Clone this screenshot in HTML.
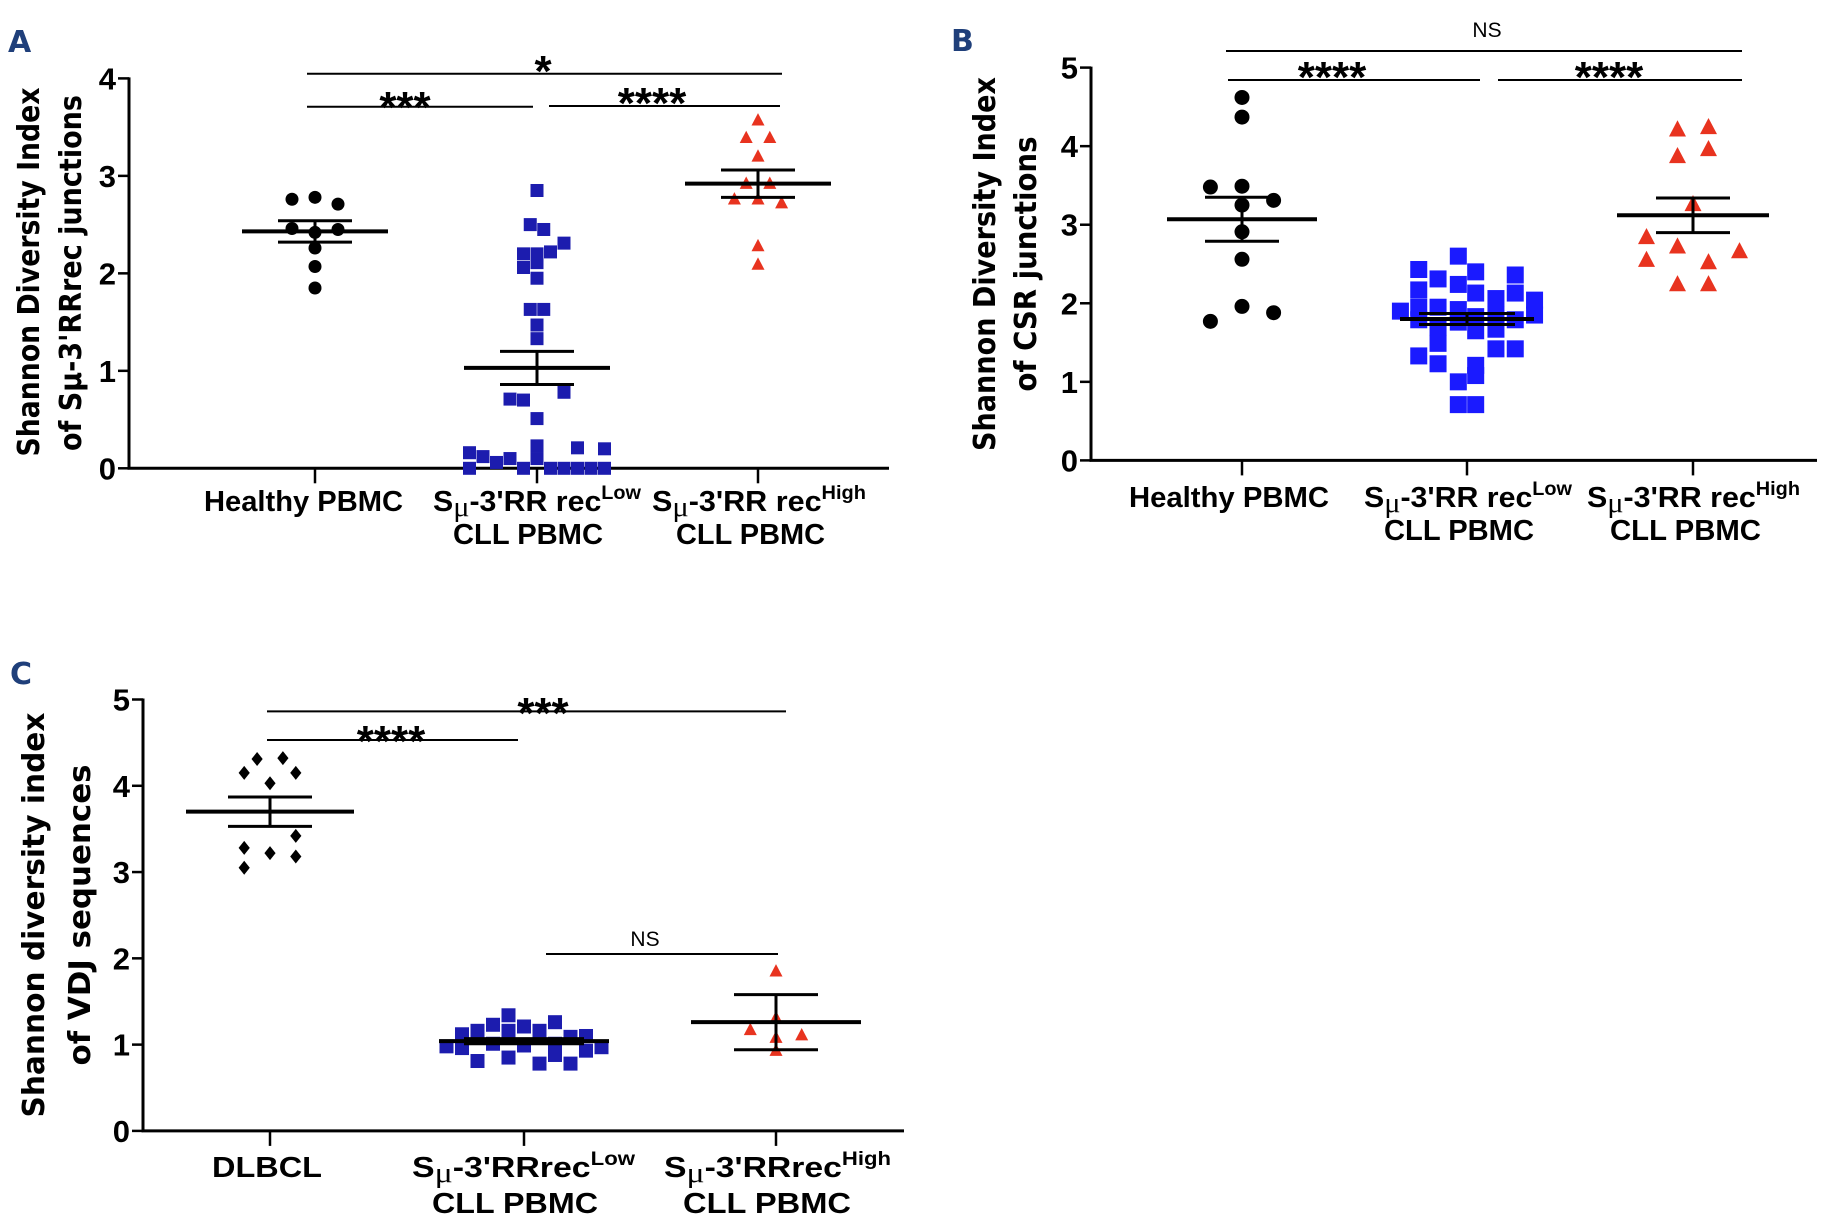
<!DOCTYPE html>
<html><head><meta charset="utf-8"><style>
html,body{margin:0;padding:0;background:#fff;}
svg{display:block;}
text{font-family:"Liberation Sans Narrow","Liberation Sans",sans-serif;font-weight:bold;fill:#000;}
.tt{font-family:"DejaVu Sans","Liberation Sans",sans-serif;font-weight:bold;}
.pl{font-family:"DejaVu Sans","Liberation Sans",sans-serif;font-weight:bold;fill:#1f3f7a;}
</style></head><body>
<svg id="fig" width="1823" height="1219" viewBox="0 0 1823 1219" xmlns="http://www.w3.org/2000/svg"></svg>
<script>
// ---- Panel A data ----
const aTicks = [0,1,2,3,4];
const aHealthyVals = [2.76,2.78,2.71,2.46,2.42,2.45,2.26,2.07,1.85];
const aHealthyJit = [-1,0,1,-1,0,1,0,0,0];
const aLowVals = [2.85,2.50,2.45,2.31,2.22,2.20,2.20,2.06,2.11,1.95,1.63,1.63,1.47,1.33,0.78,0.71,0.70,0.51,0.23,0.10,0.16,0.12,0.06,0.10,0.21,0.20,0,0,0,0,0,0,0];
const aLowJit = [0,-0.5,0.5,2,1,-1,0,-1,0,0,-0.5,0.5,0,0,2,-2,-1,0,0,0,-5,-4,-3,-2,3,5,-5,-1,1,2,3,4,5];
const aHighVals = [3.57,3.39,3.39,3.20,2.92,2.92,2.76,2.76,2.72,2.28,2.09];
const aHighJit = [0,-1,1,0,-1,1,-2,0,2,0,0];
const aMeans = [2.43,1.03,2.92];
const aSems = [0.11,0.17,0.14];
// ---- Panel B data ----
const bTicks = [0,1,2,3,4,5];
const bHealthyVals = [4.62,4.37,3.48,3.49,3.31,3.25,2.91,2.56,1.96,1.77,1.88];
const bHealthyJit = [0,0,-1,0,1,0,0,0,0,-1,1];
const bLowVals = [1.90,2.43,2.17,1.95,1.79,1.33,2.31,1.95,1.69,1.49,1.23,2.60,2.24,1.92,1.76,1.00,0.71,2.40,2.13,1.83,1.65,1.21,1.08,0.71,2.06,1.85,1.67,1.42,2.36,2.13,1.79,1.42,2.04,1.85];
const bLowJit = [-3.45,-2.5,-2.5,-2.5,-2.5,-2.5,-1.5,-1.5,-1.5,-1.5,-1.5,-0.45,-0.45,-0.45,-0.45,-0.45,-0.45,0.45,0.45,0.45,0.45,0.45,0.45,0.45,1.5,1.5,1.5,1.5,2.5,2.5,2.5,2.5,3.5,3.5];
const bHighVals = [4.21,4.24,3.87,3.96,3.26,2.84,2.72,2.66,2.55,2.52,2.24,2.24];
const bHighJit = [-0.5,0.5,-0.5,0.5,0,-1.5,-0.5,1.5,-1.5,0.5,-0.5,0.5];
const bMeans = [3.07,1.80,3.12];
const bSems = [0.28,0.07,0.22];
// ---- Panel C data ----
const cTicks = [0,1,2,3,4,5];
const cDlbclVals = [4.31,4.32,4.15,4.15,4.03,3.42,3.28,3.22,3.18,3.05];
const cDlbclJit = [-1,1,-2,2,0,2,-2,0,2,-2];
const cLowVals = [0.98,1.12,0.96,1.16,0.81,1.23,1.01,1.34,1.16,0.85,1.21,0.99,1.16,0.78,1.26,1.01,0.88,1.09,0.78,1.10,0.93,0.97];
const cLowJit = [-5,-4,-4,-3,-3,-2,-2,-1,-1,-1,0,0,1,1,2,2,2,3,3,4,4,5];
const cHighVals = [1.85,1.31,1.17,1.11,1.08,0.93];
const cHighJit = [0,0,-1,1,0,0];
const cMeans = [3.70,1.04,1.26];
const cSems = [0.17,0.03,0.32];

const NS='http://www.w3.org/2000/svg';
const svg=document.getElementById('fig');
function mk(tag,attrs,parent){const e=document.createElementNS(NS,tag);for(const k in attrs)e.setAttribute(k,attrs[k]);(parent||svg).appendChild(e);return e;}

function marker(g,shape,cx,cy,s,color){
  let e;
  if(shape==='circle'){e=mk('circle',{cx:cx,cy:cy,r:s/2,fill:color},g);}
  else if(shape==='square'){e=mk('rect',{x:cx-s/2,y:cy-s/2,width:s,height:s,fill:color},g);}
  else if(shape==='triangle'){e=mk('polygon',{points:(cx)+','+(cy-s*0.55)+' '+(cx-s/2)+','+(cy+s*0.4)+' '+(cx+s/2)+','+(cy+s*0.4),fill:color},g);}
  else {e=mk('polygon',{points:cx+','+(cy-s/2)+' '+(cx+s*0.4)+','+cy+' '+cx+','+(cy+s/2)+' '+(cx-s*0.4)+','+cy,fill:color},g);}
  
  
}

function panel(p){
  const g=mk('g',{});
  
  
  const ymax=p.ticks[p.ticks.length-1];
  const Y=v=>p.y0+(p.yTop-p.y0)*v/ymax;
  const ya=mk('line',{x1:p.ax,y1:p.yTop-1,x2:p.ax,y2:p.y0,stroke:'#000','stroke-width':3},g);
  
  const xa=mk('line',{x1:p.ax-1.5,y1:p.y0,x2:p.xEnd,y2:p.y0,stroke:'#000','stroke-width':3},g);
  
  p.ticks.forEach(t=>{
    const y=Y(t);
    const l=mk('line',{x1:p.ax-11,y1:y,x2:p.ax,y2:y,stroke:'#000','stroke-width':2.5},g);
    
    const tx=mk('text',{x:p.ax-13,y:y+11,'text-anchor':'end','font-size':31},g);
    tx.textContent=t;
    
  });
  p.cats.forEach(cx=>{
    const l=mk('line',{x1:cx,y1:p.y0,x2:cx,y2:p.y0+15,stroke:'#000','stroke-width':2.5},g);
    
  });
  p.labels.forEach(L=>{
    const t=mk('text',{x:L[1],y:L[2],textLength:L[3],lengthAdjust:'spacingAndGlyphs','font-size':29},g);
    t.innerHTML=L[0];
    
  });
  p.title.forEach(T=>{
    const t=mk('text',{x:0,y:0,'text-anchor':'middle','class':'tt','font-size':30,textLength:T[3],lengthAdjust:'spacingAndGlyphs',transform:'translate('+(T[1]+11)+','+T[2]+') rotate(-90)'},g);
    t.textContent=T[0];
    
  });
  const pl=mk('text',{x:p.pl[1],y:p.pl[2]+11,'class':'pl','font-size':30},g);
  pl.textContent=p.pl[0];
  
  p.series.forEach((s,i)=>{
    const sg=mk('g',{},g);
    
    s.vals.forEach((v,j)=>marker(sg,s.shape,p.cats[i]+s.jit[j]*s.sp,Y(v),s.size,s.color));
    const m=p.means[i],e=p.sems[i],cx=p.cats[i];
    const ml=mk('line',{x1:cx-s.mw,y1:Y(m),x2:cx+s.mw,y2:Y(m),stroke:'#000','stroke-width':4},sg);
    
    const el=mk('line',{x1:cx,y1:Y(m+e),x2:cx,y2:Y(m-e),stroke:'#000','stroke-width':3},sg);
    
    [m+e,m-e].forEach(v=>{
      const c=mk('line',{x1:cx-s.cw,y1:Y(v),x2:cx+s.cw,y2:Y(v),stroke:'#000','stroke-width':3},sg);
      
    });
  });
  p.sig.forEach(S=>{
    const l=mk('line',{x1:S[1],y1:S[3],x2:S[2],y2:S[3],stroke:'#000','stroke-width':2},g);
    
    const isNS=S[0]==='NS';
    const t=mk('text',{x:S[4],y:S[5],'text-anchor':'middle','font-size':isNS?21:44,style:isNS?'font-weight:normal':''},g);
    t.textContent=S[0];
    
  });
}
const mu='S<tspan font-family="Liberation Serif,serif" font-weight="normal" dy="5">μ</tspan><tspan dy="-5">';
panel({name:'panel-a',ticks:aTicks,ax:129,yTop:78.4,y0:468.3,xEnd:889,cats:[315,537,758],
  means:aMeans,sems:aSems,pl:['A',8,41],
  labels:[['Healthy PBMC',204,511,199],[mu+"-3'RR rec</tspan><tspan font-size='19' dy='-12'>Low</tspan>",433,511,208],['CLL PBMC',453,544,150],
    [mu+"-3'RR rec</tspan><tspan font-size='19' dy='-12'>High</tspan>",652,511,214],['CLL PBMC',676,544,149]],
  title:[['Shannon Diversity Index',28,272,369],["of Sμ-3'RRrec junctions",70,273,356]],
  series:[{key:'healthy',vals:aHealthyVals,jit:aHealthyJit,sp:23,shape:'circle',size:13,color:'#000',mw:73,cw:37},
          {key:'cll-low',vals:aLowVals,jit:aLowJit,sp:13.5,shape:'square',size:13,color:'#1c1cae',mw:73,cw:37},
          {key:'cll-high',vals:aHighVals,jit:aHighJit,sp:11.8,shape:'triangle',size:13,color:'#e8331f',mw:73,cw:37}],
  sig:[['*',307,782,73.7,543,86],['***',307,533,106.8,405,122],['****',549,780,106,652,118]]});
panel({name:'panel-b',ticks:bTicks,ax:1091,yTop:67.6,y0:460.4,xEnd:1817,cats:[1242,1467,1693],
  means:bMeans,sems:bSems,pl:['B',951,40],
  labels:[['Healthy PBMC',1129,507,200],[mu+"-3'RR rec</tspan><tspan font-size='19' dy='-12'>Low</tspan>",1364,507,208],['CLL PBMC',1384,540,150],
    [mu+"-3'RR rec</tspan><tspan font-size='19' dy='-12'>High</tspan>",1587,507,213],['CLL PBMC',1610,540,151]],
  title:[['Shannon Diversity Index',984,264,374],['of CSR junctions',1025,264,255]],
  series:[{key:'healthy',vals:bHealthyVals,jit:bHealthyJit,sp:31.6,shape:'circle',size:15,color:'#000',mw:75,cw:37},
          {key:'cll-low',vals:bLowVals,jit:bLowJit,sp:19.3,shape:'square',size:17,color:'#1a1aff',mw:67,cw:48},
          {key:'cll-high',vals:bHighVals,jit:bHighJit,sp:31,shape:'triangle',size:17,color:'#e8331f',mw:76,cw:37}],
  sig:[['NS',1226,1742,51,1487,37],['****',1228,1480,80,1332,92],['****',1498,1742,80,1609,92]]});
panel({name:'panel-c',ticks:cTicks,ax:143,yTop:699.5,y0:1130.9,xEnd:904,cats:[270,524,776],
  means:cMeans,sems:cSems,pl:['C',10,673],
  labels:[['DLBCL',212,1177,110],[mu+"-3'RRrec</tspan><tspan font-size='19' dy='-12'>Low</tspan>",412,1177,223],['CLL PBMC',432,1213,166],
    [mu+"-3'RRrec</tspan><tspan font-size='19' dy='-12'>High</tspan>",664,1177,227],['CLL PBMC',683,1213,168]],
  title:[['Shannon diversity index',33,915,405],['of VDJ sequences',79,915,301]],
  series:[{key:'dlbcl',vals:cDlbclVals,jit:cDlbclJit,sp:12.9,shape:'diamond',size:14,color:'#000',mw:84,cw:42},
          {key:'cll-low',vals:cLowVals,jit:cLowJit,sp:15.5,shape:'square',size:14,color:'#1c1cae',mw:85,cw:60},
          {key:'cll-high',vals:cHighVals,jit:cHighJit,sp:25.7,shape:'triangle',size:13,color:'#e8331f',mw:85,cw:42}],
  sig:[['***',267,786,711.4,543,728],['****',267,518,740,391,756],['NS',546,778,954,645,946]]});
</script>
</body></html>
